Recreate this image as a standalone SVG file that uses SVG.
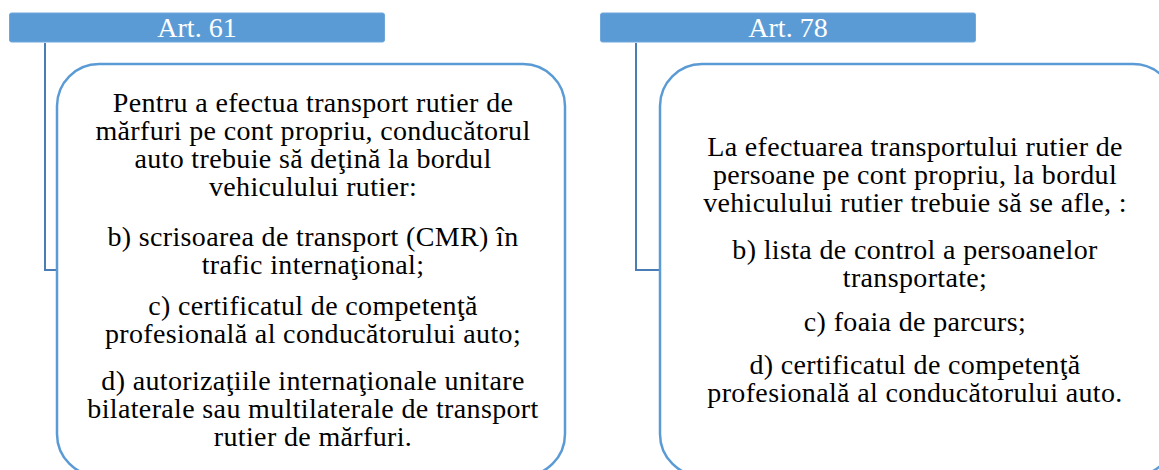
<svg xmlns="http://www.w3.org/2000/svg" width="1159" height="470" viewBox="0 0 1159 470">
<style>
.hdr{fill:#5B9BD5;stroke:#6FA7DB;stroke-width:1}
.hdrt{font-family:'Liberation Serif','Times New Roman',serif;font-size:28px;fill:#FFFFFF;text-anchor:middle}
.box{fill:#FFFFFF;stroke:#5B9BD5;stroke-width:2.5}
.txt{font-family:'Liberation Serif','Times New Roman',serif;font-size:28px;letter-spacing:0.35px;fill:#000000;text-anchor:middle}
.conn{fill:none;stroke:#4A7DB5;stroke-width:2}
</style>
<rect width="1159" height="470" fill="#FFFFFF"/>
<g id="connectors">
<path class="conn" d="M45,43 V270 H57"/>
<path class="conn" d="M636,43 V270 H660"/>
</g>
<g id="header-61">
<rect class="hdr" x="9.5" y="13" width="375" height="29" rx="2"/>
<text class="hdrt" x="197" y="37">Art. 61</text>
</g>
<g id="header-78">
<rect class="hdr" x="600.5" y="13" width="375" height="29" rx="2"/>
<text class="hdrt" x="788" y="37">Art. 78</text>
</g>
<g id="box-61">
<rect class="box" x="57" y="64" width="508" height="412" rx="42"/>
<text class="txt" x="313" y="112">Pentru a efectua transport rutier de</text>
<text class="txt" x="313" y="140">mărfuri pe cont propriu, conducătorul</text>
<text class="txt" x="313" y="168">auto trebuie să deţină la bordul</text>
<text class="txt" x="313" y="196">vehiculului rutier:</text>
<text class="txt" x="313" y="246">b) scrisoarea de transport (CMR) în</text>
<text class="txt" x="313" y="274">trafic internaţional;</text>
<text class="txt" x="313" y="315">c) certificatul de competenţă</text>
<text class="txt" x="313" y="343">profesională al conducătorului auto;</text>
<text class="txt" x="313" y="390">d) autorizaţiile internaţionale unitare</text>
<text class="txt" x="313" y="418">bilaterale sau multilaterale de transport</text>
<text class="txt" x="313" y="446">rutier de mărfuri.</text>
</g>
<g id="box-78">
<rect class="box" x="660" y="64" width="515" height="412" rx="42"/>
<text class="txt" x="915" y="156">La efectuarea transportului rutier de</text>
<text class="txt" x="915" y="184">persoane pe cont propriu, la bordul</text>
<text class="txt" x="915" y="212">vehiculului rutier trebuie să se afle, :</text>
<text class="txt" x="915" y="259">b) lista de control a persoanelor</text>
<text class="txt" x="915" y="287">transportate;</text>
<text class="txt" x="915" y="331">c) foaia de parcurs;</text>
<text class="txt" x="915" y="374">d) certificatul de competenţă</text>
<text class="txt" x="915" y="402">profesională al conducătorului auto.</text>
</g>
</svg>
